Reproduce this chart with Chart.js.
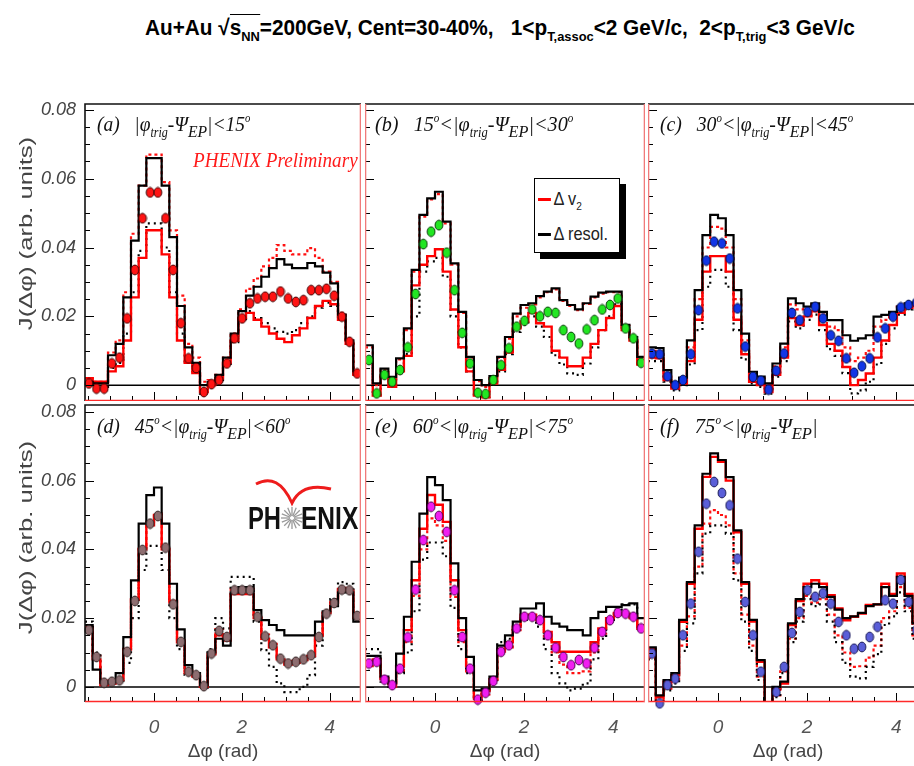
<!DOCTYPE html>
<html>
<head>
<meta charset="utf-8">
<script src="https://cdn.jsdelivr.net/npm/chart.js@4.4.1/dist/chart.umd.min.js"></script>
<style>
  html, body { margin: 0; padding: 0; background: #fff; overflow: hidden; }
  body { width: 914px; height: 766px; position: relative; font-family: 'Liberation Sans', Arial, sans-serif; }
  canvas { position: absolute; }
  .txt { position: absolute; white-space: nowrap; line-height: 1; transform-origin: 0 0; display: inline-block; }
  .txt sub { font-size: 62%; vertical-align: -0.45em; line-height: 0; }
  .txt sup { font-size: 55%; vertical-align: 0.75em; line-height: 0; }
  .panel { font-family: 'Liberation Serif', 'Times New Roman', serif; font-style: italic; font-size: 22px; color: #111; }
  .prelim { font-family: 'Liberation Serif', 'Times New Roman', serif; font-style: italic; font-size: 21px; color: #ff1a1a; }
  .title { font-family: 'Liberation Sans', Arial, sans-serif; font-weight: bold; font-size: 22px; color: #000; }
  .ytitle { font-family: 'Liberation Sans', Arial, sans-serif; font-size: 19px; color: #444; }
  .logo { font-family: 'Liberation Sans', Arial, sans-serif; font-weight: bold; font-size: 31px; color: #111; }
  #legend { position: absolute; left: 534px; top: 178px; width: 84px; height: 73px; border: 1.5px solid #000;
            background: #fff; box-shadow: 6px 6px 0 #000; font-size: 19px; color: #222; overflow: hidden; }
  #legend div { position: absolute; left: 3px; white-space: nowrap; transform-origin: 0 50%; transform: scaleX(0.86); }
  #legend span.ln { display: inline-block; width: 15px; height: 3px; vertical-align: middle; margin-right: 3px; }
  #legend sub { font-size: 62%; vertical-align: -0.4em; }
  svg { position: absolute; left: 0; top: 0; }
</style>
</head>
<body>
<div id="legend">
  <div style="top:9px"><span class="ln" style="background:#ff0000"></span>Δ v<sub>2</sub></div>
  <div style="top:44px"><span class="ln" style="background:#000"></span>Δ resol.</div>
</div>
<svg width="914" height="766" id="logo"></svg>
<script>
// bin centres of the azimuthal correlation, degrees (10 degree bins over [-90, 270])
const binCentersDeg = [-85, -75, -65, -55, -45, -35, -25, -15, -5, 5, 15, 25, 35, 45, 55, 65, 75, 85,
  95, 105, 115, 125, 135, 145, 155, 165, 175, 185, 195, 205, 215, 225, 235, 245, 255, 265];
const binHalfDeg = 5;

const xTickValues = [0, 2, 4];
const xTickLabels = ['0', '2', '4'];
const yTickValues = [0, 0.02, 0.04, 0.06, 0.08];
const yTickLabels = ['0', '0.02', '0.04', '0.06', '0.08'];

// (a) |phi_trig - Psi_EP| < 15
const ptsA = [0.0005, -0.0010, -0.0010, 0.0063, 0.0080, 0.0194, 0.0335, 0.0485, 0.0560, 0.0560, 0.0485, 0.0335, 0.0180, 0.0078, 0.0050, -0.0020, 0.0003, 0.0015, 0.0063, 0.0136, 0.0194, 0.0238, 0.0252, 0.0257, 0.0257, 0.0272, 0.0252, 0.0242, 0.0247, 0.0276, 0.0276, 0.0280, 0.0260, 0.0199, 0.0126, 0.0034];
const blkSolA = [0.0010, 0.0005, 0.0005, 0.0087, 0.0120, 0.0255, 0.0420, 0.0580, 0.0660, 0.0660, 0.0580, 0.0430, 0.0230, 0.0110, 0.0065, 0.0000, 0.0010, 0.0030, 0.0080, 0.0150, 0.0215, 0.0260, 0.0286, 0.0315, 0.0340, 0.0366, 0.0350, 0.0340, 0.0340, 0.0355, 0.0345, 0.0327, 0.0296, 0.0205, 0.0130, 0.0040];
const blkDotA = [0.0000, -0.0005, -0.0005, 0.0050, 0.0065, 0.0150, 0.0270, 0.0390, 0.0470, 0.0470, 0.0400, 0.0270, 0.0150, 0.0065, 0.0040, -0.0025, -0.0005, 0.0010, 0.0055, 0.0125, 0.0185, 0.0215, 0.0195, 0.0180, 0.0165, 0.0155, 0.0150, 0.0160, 0.0180, 0.0200, 0.0225, 0.0240, 0.0230, 0.0190, 0.0120, 0.0030];
const redSolA = [0.0020, 0.0010, 0.0010, 0.0040, 0.0055, 0.0130, 0.0255, 0.0370, 0.0450, 0.0450, 0.0380, 0.0255, 0.0130, 0.0065, 0.0035, -0.0020, 0.0000, 0.0020, 0.0065, 0.0130, 0.0195, 0.0210, 0.0190, 0.0170, 0.0150, 0.0135, 0.0125, 0.0145, 0.0165, 0.0195, 0.0230, 0.0245, 0.0235, 0.0190, 0.0120, 0.0030];
const redDotA = [0.0020, 0.0010, 0.0010, 0.0095, 0.0130, 0.0270, 0.0440, 0.0580, 0.0670, 0.0670, 0.0590, 0.0450, 0.0260, 0.0120, 0.0080, 0.0010, 0.0015, 0.0030, 0.0080, 0.0150, 0.0220, 0.0280, 0.0310, 0.0345, 0.0370, 0.0407, 0.0390, 0.0380, 0.0380, 0.0398, 0.0370, 0.0330, 0.0300, 0.0210, 0.0130, 0.0040];

// (b) 15 < |phi_trig - Psi_EP| < 30
const ptsB = [0.0073, -0.0024, 0.0030, 0.0010, 0.0044, 0.0110, 0.0265, 0.0410, 0.0446, 0.0465, 0.0385, 0.0276, 0.0152, 0.0063, -0.0022, -0.0026, 0.0015, 0.0058, 0.0107, 0.0170, 0.0187, 0.0220, 0.0200, 0.0213, 0.0210, 0.0160, 0.0140, 0.0121, 0.0162, 0.0189, 0.0220, 0.0233, 0.0252, 0.0165, 0.0136, 0.0065];
const blkSolB = [0.0116, 0.0005, 0.0048, 0.0024, 0.0078, 0.0165, 0.0335, 0.0495, 0.0543, 0.0562, 0.0475, 0.0354, 0.0213, 0.0082, 0.0015, 0.0000, 0.0026, 0.0082, 0.0140, 0.0208, 0.0233, 0.0238, 0.0259, 0.0272, 0.0281, 0.0247, 0.0233, 0.0220, 0.0238, 0.0257, 0.0269, 0.0272, 0.0272, 0.0175, 0.0140, 0.0082];
const blkDotB = [0.0065, -0.0030, 0.0025, 0.0000, 0.0035, 0.0090, 0.0200, 0.0330, 0.0360, 0.0370, 0.0315, 0.0200, 0.0110, 0.0040, -0.0030, -0.0035, 0.0005, 0.0040, 0.0090, 0.0155, 0.0175, 0.0200, 0.0170, 0.0140, 0.0087, 0.0060, 0.0034, 0.0030, 0.0063, 0.0110, 0.0160, 0.0200, 0.0235, 0.0160, 0.0130, 0.0060];
const redSolB = [0.0070, -0.0030, 0.0030, -0.0005, 0.0040, 0.0085, 0.0290, 0.0350, 0.0375, 0.0395, 0.0330, 0.0220, 0.0110, 0.0040, -0.0030, -0.0035, 0.0005, 0.0045, 0.0095, 0.0165, 0.0185, 0.0210, 0.0180, 0.0170, 0.0100, 0.0080, 0.0055, 0.0055, 0.0080, 0.0120, 0.0160, 0.0195, 0.0230, 0.0160, 0.0130, 0.0060];
const redDotB = [0.0110, 0.0000, 0.0045, 0.0020, 0.0075, 0.0160, 0.0330, 0.0490, 0.0540, 0.0555, 0.0470, 0.0350, 0.0210, 0.0080, 0.0012, -0.0005, 0.0024, 0.0080, 0.0135, 0.0200, 0.0225, 0.0235, 0.0255, 0.0270, 0.0278, 0.0245, 0.0230, 0.0218, 0.0236, 0.0255, 0.0266, 0.0270, 0.0270, 0.0172, 0.0138, 0.0080];

// (c) 30 < |phi_trig - Psi_EP| < 45
const ptsC = [0.0092, 0.0090, 0.0026, 0.0000, 0.0015, 0.0090, 0.0218, 0.0362, 0.0417, 0.0412, 0.0368, 0.0223, 0.0112, 0.0024, 0.0013, -0.0013, 0.0042, 0.0092, 0.0210, 0.0189, 0.0213, 0.0228, 0.0194, 0.0145, 0.0129, 0.0078, 0.0036, 0.0055, 0.0078, 0.0139, 0.0165, 0.0199, 0.0226, 0.0233, 0.0240, 0.0220];
const blkSolC = [0.0110, 0.0108, 0.0044, 0.0008, 0.0022, 0.0130, 0.0276, 0.0436, 0.0495, 0.0485, 0.0436, 0.0276, 0.0150, 0.0039, 0.0025, 0.0005, 0.0063, 0.0121, 0.0252, 0.0238, 0.0228, 0.0238, 0.0213, 0.0189, 0.0189, 0.0145, 0.0129, 0.0136, 0.0145, 0.0199, 0.0204, 0.0213, 0.0228, 0.0238, 0.0240, 0.0230];
const blkDotC = [0.0070, 0.0070, 0.0010, -0.0015, 0.0000, 0.0060, 0.0160, 0.0286, 0.0335, 0.0335, 0.0286, 0.0160, 0.0075, 0.0005, -0.0005, -0.0025, 0.0025, 0.0070, 0.0185, 0.0165, 0.0190, 0.0205, 0.0160, 0.0105, 0.0085, 0.0035, -0.0024, -0.0015, 0.0010, 0.0060, 0.0120, 0.0165, 0.0205, 0.0220, 0.0225, 0.0205];
const redSolC = [0.0080, 0.0078, 0.0015, -0.0010, 0.0005, 0.0070, 0.0190, 0.0330, 0.0375, 0.0375, 0.0330, 0.0190, 0.0090, 0.0010, 0.0000, -0.0020, 0.0030, 0.0080, 0.0195, 0.0175, 0.0200, 0.0215, 0.0175, 0.0120, 0.0100, 0.0053, 0.0000, 0.0015, 0.0034, 0.0080, 0.0130, 0.0175, 0.0210, 0.0225, 0.0230, 0.0210];
const redDotC = [0.0100, 0.0098, 0.0035, 0.0004, 0.0018, 0.0110, 0.0250, 0.0400, 0.0460, 0.0455, 0.0400, 0.0250, 0.0130, 0.0030, 0.0020, 0.0000, 0.0055, 0.0110, 0.0235, 0.0220, 0.0222, 0.0235, 0.0205, 0.0170, 0.0160, 0.0110, 0.0070, 0.0080, 0.0100, 0.0170, 0.0190, 0.0205, 0.0228, 0.0236, 0.0242, 0.0225];

// (d) 45 < |phi_trig - Psi_EP| < 60
const ptsD = [0.0165, 0.0087, 0.0012, 0.0015, 0.0019, 0.0102, 0.0250, 0.0398, 0.0475, 0.0497, 0.0405, 0.0240, 0.0131, 0.0044, 0.0034, 0.0002, 0.0097, 0.0163, 0.0145, 0.0281, 0.0281, 0.0281, 0.0204, 0.0147, 0.0121, 0.0082, 0.0068, 0.0073, 0.0080, 0.0092, 0.0145, 0.0213, 0.0244, 0.0283, 0.0281, 0.0206];
const blkSolD = [0.0180, 0.0050, 0.0012, 0.0015, 0.0040, 0.0145, 0.0310, 0.0475, 0.0558, 0.0580, 0.0475, 0.0300, 0.0167, 0.0063, 0.0040, 0.0005, 0.0100, 0.0140, 0.0120, 0.0275, 0.0290, 0.0290, 0.0223, 0.0194, 0.0180, 0.0165, 0.0150, 0.0150, 0.0150, 0.0150, 0.0190, 0.0220, 0.0235, 0.0275, 0.0275, 0.0190];
const blkDotD = [0.0190, 0.0100, 0.0010, 0.0012, 0.0015, 0.0070, 0.0200, 0.0340, 0.0410, 0.0410, 0.0340, 0.0200, 0.0110, 0.0035, 0.0030, -0.0002, 0.0110, 0.0200, 0.0170, 0.0320, 0.0320, 0.0320, 0.0190, 0.0107, 0.0058, 0.0010, -0.0015, -0.0015, 0.0000, 0.0034, 0.0120, 0.0210, 0.0255, 0.0305, 0.0300, 0.0215];
const redSolD = [0.0170, 0.0080, 0.0005, 0.0010, 0.0020, 0.0110, 0.0255, 0.0400, 0.0470, 0.0500, 0.0400, 0.0250, 0.0130, 0.0040, 0.0030, 0.0000, 0.0095, 0.0150, 0.0135, 0.0270, 0.0270, 0.0270, 0.0200, 0.0140, 0.0115, 0.0080, 0.0065, 0.0070, 0.0078, 0.0090, 0.0150, 0.0215, 0.0245, 0.0285, 0.0280, 0.0200];
const redDotD = [0.0175, 0.0090, 0.0015, 0.0018, 0.0022, 0.0105, 0.0252, 0.0402, 0.0480, 0.0505, 0.0410, 0.0245, 0.0135, 0.0047, 0.0036, 0.0004, 0.0100, 0.0168, 0.0150, 0.0285, 0.0285, 0.0285, 0.0208, 0.0152, 0.0125, 0.0086, 0.0072, 0.0076, 0.0084, 0.0096, 0.0148, 0.0216, 0.0247, 0.0288, 0.0285, 0.0210];

// (e) 60 < |phi_trig - Psi_EP| < 75
const ptsE = [0.0068, 0.0073, 0.0021, 0.0005, 0.0053, 0.0144, 0.0283, 0.0427, 0.0524, 0.0497, 0.0451, 0.0281, 0.0145, 0.0053, -0.0037, -0.0017, 0.0017, 0.0102, 0.0121, 0.0170, 0.0204, 0.0204, 0.0194, 0.0150, 0.0114, 0.0087, 0.0063, 0.0078, 0.0068, 0.0114, 0.0160, 0.0194, 0.0215, 0.0213, 0.0204, 0.0170];
const blkSolE = [0.0090, 0.0090, 0.0030, 0.0010, 0.0097, 0.0204, 0.0364, 0.0504, 0.0610, 0.0587, 0.0543, 0.0359, 0.0200, 0.0087, -0.0010, -0.0005, 0.0030, 0.0120, 0.0150, 0.0190, 0.0228, 0.0228, 0.0243, 0.0204, 0.0184, 0.0175, 0.0165, 0.0165, 0.0150, 0.0200, 0.0218, 0.0233, 0.0233, 0.0238, 0.0243, 0.0200];
const blkDotE = [0.0110, 0.0110, 0.0015, 0.0000, 0.0040, 0.0100, 0.0220, 0.0370, 0.0420, 0.0420, 0.0380, 0.0230, 0.0110, 0.0040, -0.0040, -0.0020, 0.0010, 0.0130, 0.0140, 0.0165, 0.0195, 0.0195, 0.0175, 0.0110, 0.0040, 0.0010, -0.0010, -0.0005, 0.0010, 0.0080, 0.0140, 0.0195, 0.0225, 0.0240, 0.0240, 0.0180];
const redSolE = [0.0075, 0.0080, 0.0025, 0.0008, 0.0060, 0.0165, 0.0310, 0.0460, 0.0558, 0.0530, 0.0480, 0.0310, 0.0165, 0.0060, -0.0030, -0.0012, 0.0022, 0.0110, 0.0130, 0.0175, 0.0210, 0.0210, 0.0200, 0.0160, 0.0130, 0.0102, 0.0102, 0.0102, 0.0102, 0.0130, 0.0170, 0.0200, 0.0215, 0.0213, 0.0205, 0.0175];
const redDotE = [0.0060, 0.0065, 0.0015, 0.0000, 0.0045, 0.0130, 0.0265, 0.0400, 0.0490, 0.0470, 0.0425, 0.0262, 0.0130, 0.0045, -0.0042, -0.0022, 0.0012, 0.0095, 0.0115, 0.0165, 0.0200, 0.0200, 0.0188, 0.0140, 0.0100, 0.0065, 0.0040, 0.0040, 0.0045, 0.0100, 0.0155, 0.0190, 0.0212, 0.0210, 0.0200, 0.0165];

// (f) 75 < |phi_trig - Psi_EP|
const ptsF = [0.0097, -0.0048, 0.0005, 0.0024, 0.0150, 0.0242, 0.0393, 0.0533, 0.0596, 0.0564, 0.0528, 0.0373, 0.0247, 0.0150, 0.0044, -0.0065, -0.0015, 0.0058, 0.0157, 0.0218, 0.0281, 0.0262, 0.0272, 0.0242, 0.0189, 0.0150, 0.0111, 0.0116, 0.0145, 0.0175, 0.0252, 0.0242, 0.0311, 0.0247, 0.0165, 0.0120];
const blkSolF = [0.0115, -0.0025, 0.0020, 0.0040, 0.0195, 0.0305, 0.0470, 0.0620, 0.0679, 0.0660, 0.0610, 0.0455, 0.0305, 0.0195, 0.0078, -0.0055, 0.0000, 0.0015, 0.0185, 0.0255, 0.0290, 0.0300, 0.0290, 0.0262, 0.0225, 0.0200, 0.0205, 0.0215, 0.0235, 0.0240, 0.0290, 0.0265, 0.0320, 0.0265, 0.0185, 0.0135];
const blkDotF = [0.0080, -0.0065, -0.0010, 0.0010, 0.0105, 0.0185, 0.0330, 0.0446, 0.0470, 0.0470, 0.0446, 0.0310, 0.0190, 0.0105, 0.0020, -0.0075, -0.0030, 0.0040, 0.0130, 0.0190, 0.0255, 0.0235, 0.0240, 0.0190, 0.0130, 0.0070, 0.0030, 0.0025, 0.0058, 0.0095, 0.0180, 0.0205, 0.0275, 0.0220, 0.0140, 0.0100];
const redSolF = [0.0110, -0.0030, 0.0015, 0.0034, 0.0189, 0.0300, 0.0460, 0.0611, 0.0669, 0.0655, 0.0600, 0.0450, 0.0300, 0.0190, 0.0073, -0.0060, -0.0005, 0.0010, 0.0180, 0.0250, 0.0300, 0.0310, 0.0300, 0.0267, 0.0228, 0.0194, 0.0204, 0.0213, 0.0238, 0.0240, 0.0300, 0.0270, 0.0330, 0.0270, 0.0190, 0.0140];
const redDotF = [0.0085, -0.0060, -0.0005, 0.0015, 0.0120, 0.0205, 0.0350, 0.0475, 0.0514, 0.0500, 0.0470, 0.0330, 0.0210, 0.0120, 0.0030, -0.0070, -0.0025, 0.0045, 0.0140, 0.0200, 0.0265, 0.0245, 0.0255, 0.0210, 0.0150, 0.0100, 0.0058, 0.0060, 0.0085, 0.0120, 0.0200, 0.0220, 0.0290, 0.0230, 0.0150, 0.0105];

const rad = d => d * Math.PI / 180;

const panels = [
  { pts: ptsA, blkSol: blkSolA, blkDot: blkDotA, redSol: redSolA, redDot: redDotA, fill: '#ff1414', edge: '#3c0000', col: 0, row: 0 },
  { pts: ptsB, blkSol: blkSolB, blkDot: blkDotB, redSol: redSolB, redDot: redDotB, fill: '#22e622', edge: '#0a3a0a', col: 1, row: 0 },
  { pts: ptsC, blkSol: blkSolC, blkDot: blkDotC, redSol: redSolC, redDot: redDotC, fill: '#1236e6', edge: '#00104a', col: 2, row: 0 },
  { pts: ptsD, blkSol: blkSolD, blkDot: blkDotD, redSol: redSolD, redDot: redDotD, fill: '#8d6d70', edge: '#2e2020', col: 0, row: 1 },
  { pts: ptsE, blkSol: blkSolE, blkDot: blkDotE, redSol: redSolE, redDot: redDotE, fill: '#f01ef0', edge: '#4a004a', col: 1, row: 1 },
  { pts: ptsF, blkSol: blkSolF, blkDot: blkDotF, redSol: redSolF, redDot: redDotF, fill: '#5a5ed8', edge: '#1a1a55', col: 2, row: 1 }
];

const cols = [
  { left: 0, width: 361, axis: 85 },
  { left: 365, width: 280, axis: 0 },
  { left: 648, width: 280, axis: 0 }
];
const rows = [
  { top: 90, height: 311, axis: 0, yMin: -0.0046, yMax: 0.0817 },
  { top: 391, height: 375, axis: 64, yMin: -0.0044, yMax: 0.0820 }
];

function makeMarker(fill, edge) {
  const c = document.createElement('canvas');
  c.width = 10; c.height = 12;
  const g = c.getContext('2d');
  g.beginPath();
  g.ellipse(5, 6, 3.9, 4.9, 0, 0, Math.PI * 2);
  g.fillStyle = fill;
  g.fill();
  g.lineWidth = 1;
  g.strokeStyle = edge;
  g.stroke();
  return c;
}

// histogram outline: one point per lower bin edge plus the last upper edge
function steps(vals) {
  const out = vals.map((v, i) => ({ x: rad(binCentersDeg[i] - binHalfDeg), y: v }));
  const last = vals.length - 1;
  out.push({ x: rad(binCentersDeg[last] + binHalfDeg), y: vals[last] });
  return out;
}

function histo(vals, color, dash, width) {
  return {
    type: 'line', data: steps(vals), stepped: true, borderColor: color, borderWidth: width,
    borderDash: dash, pointRadius: 0, fill: false, clip: 0, showLine: true
  };
}

const framePlugin = {
  id: 'panelFrame',
  beforeDatasetsDraw(chart) {
    const { ctx, chartArea: a, scales: { y } } = chart;
    const y0 = y.getPixelForValue(0);
    ctx.save();
    ctx.strokeStyle = '#000';
    ctx.lineWidth = 1.5;
    ctx.beginPath();
    ctx.moveTo(a.left, y0);
    ctx.lineTo(a.right, y0);
    ctx.stroke();
    ctx.restore();
  },
  afterDatasetsDraw(chart, args, opts) {
    const { ctx, chartArea: a, scales: { x, y } } = chart;
    ctx.save();
    ctx.lineWidth = 1;
    ctx.strokeStyle = '#000';
    // inward ticks on the left edge, minor every 0.005
    for (let k = -1; k <= 17; k++) {
      const v = k * 0.005;
      const py = Math.round(y.getPixelForValue(v)) + 0.5;
      if (py < a.top + 1 || py > a.bottom - 1) continue;
      const len = k % 4 === 0 ? 9 : 5;
      ctx.beginPath(); ctx.moveTo(a.left, py); ctx.lineTo(a.left + len, py); ctx.stroke();
    }
    // inward ticks on the bottom edge, every 0.5 rad
    for (let k = -3; k <= 9; k++) {
      const v = k * 0.5;
      const px = Math.round(x.getPixelForValue(v)) + 0.5;
      if (px < a.left + 1 || px > a.right - 1) continue;
      const len = k % 4 === 0 ? 9 : 5;
      ctx.beginPath(); ctx.moveTo(px, a.bottom); ctx.lineTo(px, a.bottom - len); ctx.stroke();
    }
    ctx.lineWidth = 1.6;
    ctx.strokeStyle = '#111';
    ctx.beginPath();
    ctx.moveTo(a.left, a.bottom); ctx.lineTo(a.left, a.top); ctx.lineTo(a.right, a.top);
    ctx.stroke();
    ctx.strokeStyle = '#ff2a2a';
    ctx.beginPath(); ctx.moveTo(a.left, a.bottom - 0.5); ctx.lineTo(a.right, a.bottom - 0.5); ctx.stroke();
    ctx.strokeStyle = '#f07a7a';
    if (opts.redLeft) { ctx.beginPath(); ctx.moveTo(a.left + 0.5, a.top); ctx.lineTo(a.left + 0.5, a.bottom); ctx.stroke(); }
    if (opts.redRight) { ctx.beginPath(); ctx.moveTo(a.right - 0.5, a.top); ctx.lineTo(a.right - 0.5, a.bottom); ctx.stroke(); }
    ctx.restore();
  }
};

const tickFont = { family: 'Liberation Sans', size: 18, style: 'italic' };

panels.forEach(p => {
  const c = cols[p.col], r = rows[p.row];
  const cv = document.createElement('canvas');
  cv.width = c.width; cv.height = r.height;
  cv.style.left = c.left + 'px'; cv.style.top = r.top + 'px';
  cv.style.width = c.width + 'px'; cv.style.height = r.height + 'px';
  document.body.appendChild(cv);

  new Chart(cv, {
    type: 'scatter',
    data: {
      datasets: [
        {
          data: p.pts.map((v, i) => ({ x: rad(binCentersDeg[i]), y: v })),
          pointStyle: makeMarker(p.fill, p.edge), clip: false
        },
        histo(p.blkSol, '#000000', [], 2.2),
        histo(p.redSol, '#ff0000', [], 2.4),
        histo(p.blkDot, '#000000', [2, 4], 2.2),
        histo(p.redDot, '#ff1010', [3, 3], 2.2)
      ]
    },
    options: {
      responsive: false,
      animation: false,
      events: [],
      layout: { autoPadding: false, padding: { top: 14, left: 0, right: 0, bottom: 0 } },
      plugins: {
        legend: { display: false },
        tooltip: { enabled: false },
        panelFrame: { redLeft: p.col > 0, redRight: p.col < 2 }
      },
      scales: {
        x: {
          type: 'linear', min: -Math.PI / 2, max: 1.5 * Math.PI,
          display: r.axis > 0,
          grid: { display: false, drawTicks: false },
          border: { display: false },
          afterBuildTicks: s => { s.ticks = xTickValues.map(v => ({ value: v })); },
          ticks: {
            autoSkip: false, maxRotation: 0, padding: 14, color: '#555',
            font: { family: 'Liberation Sans', size: 19, style: 'italic' },
            callback: (v, i) => xTickLabels[i]
          },
          title: {
            display: true, text: 'Δφ (rad)', color: '#444',
            font: { family: 'Liberation Sans', size: 19 }, padding: { top: 0, bottom: 3 }
          },
          afterFit: s => { s.height = r.axis; s.paddingLeft = 0; s.paddingRight = 0; }
        },
        y: {
          min: r.yMin, max: r.yMax,
          display: c.axis > 0,
          grid: { display: false, drawTicks: false },
          border: { display: false },
          afterBuildTicks: s => { s.ticks = yTickValues.map(v => ({ value: v })); },
          ticks: { autoSkip: false, padding: 9, color: '#444', font: tickFont, callback: (v, i) => yTickLabels[i] },
          afterFit: s => { s.width = c.axis; s.paddingTop = 0; s.paddingBottom = 0; }
        }
      }
    },
    plugins: [framePlugin]
  });
});

// text overlays, each squeezed to its width
function place(html, cls, x, y, w) {
  const d = document.createElement('div');
  d.className = 'txt ' + cls;
  d.innerHTML = html;
  d.style.left = x + 'px';
  d.style.top = y + 'px';
  document.body.appendChild(d);
  if (w) d.style.transform = 'scaleX(' + (w / d.offsetWidth) + ')';
  return d;
}

const phiPsi = '|φ<sub>trig</sub>-Ψ<sub><span style="font-size:130%">EP</span></sub>|';
place('Au+Au √<span style="border-top:1.5px solid #000">s<sub>NN</sub></span>=200GeV, Cent=30-40%,&nbsp;&nbsp; 1&lt;p<sub>T,assoc</sub>&lt;2 GeV/c,&nbsp; 2&lt;p<sub>T,trig</sub>&lt;3 GeV/c', 'title', 145, 17, 710);
place('(a)&nbsp;&nbsp; ' + phiPsi + '&lt;15<sup>o</sup>', 'panel', 97, 113, 153);
place('(b)&nbsp;&nbsp; 15<sup>o</sup>&lt;' + phiPsi + '&lt;30<sup>o</sup>', 'panel', 375, 113, 198);
place('(c)&nbsp;&nbsp; 30<sup>o</sup>&lt;' + phiPsi + '&lt;45<sup>o</sup>', 'panel', 660, 113, 193);
place('(d)&nbsp;&nbsp; 45<sup>o</sup>&lt;' + phiPsi + '&lt;60<sup>o</sup>', 'panel', 97, 415, 193);
place('(e)&nbsp;&nbsp; 60<sup>o</sup>&lt;' + phiPsi + '&lt;75<sup>o</sup>', 'panel', 375, 415, 198);
place('(f)&nbsp;&nbsp; 75<sup>o</sup>&lt;' + phiPsi, 'panel', 660, 415, 158);
place('PHENIX Preliminary', 'prelim', 193, 150, 165);

// rotated axis titles
[233, 537].forEach(cy => {
  const d = place('J(Δφ) (arb. units)', 'ytitle', 0, 0, 0);
  const w = d.offsetWidth, h = d.offsetHeight;
  d.style.left = (25 - w / 2) + 'px';
  d.style.top = (cy - h / 2) + 'px';
  d.style.transformOrigin = '50% 50%';
  d.style.transform = 'rotate(-90deg) scaleX(' + (193 / w) + ')';
});

// PHENIX logo in panel (d)
place('PH', 'logo', 248, 503, 33);
place('ENIX', 'logo', 301, 503, 57);

const svg = document.getElementById('logo');
let rays = '';
for (let k = 0; k < 16; k++) {
  const t = k * Math.PI / 8;
  rays += `<line x1="${292 + 2 * Math.cos(t)}" y1="${518 + 2 * Math.sin(t)}" x2="${292 + 11 * Math.cos(t)}" y2="${518 + 11 * Math.sin(t)}" stroke="#999" stroke-width="1.3"/>`;
}
svg.innerHTML = '<path d="M256,484 Q278,472 292,503 Q302,482 331,489" fill="none" stroke="#ee1c1c" stroke-width="3"/>' + rays;
</script>
</body>
</html>
